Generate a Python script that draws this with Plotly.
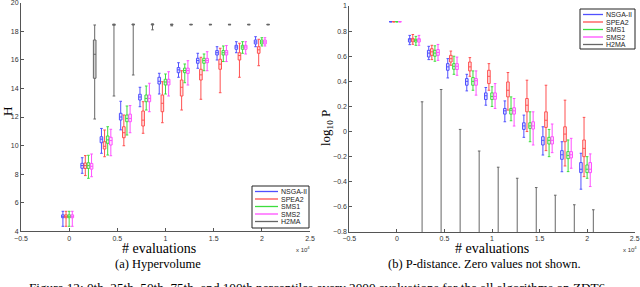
import plotly.graph_objects as go

# ---------------- data ----------------
EVALUATIONS = [0, 2000, 4000, 6000, 8000, 10000, 12000, 14000, 16000, 18000, 20000]
ALGORITHMS = ["NSGA-II", "SPEA2", "SMS1", "SMS2", "H2MA"]
X_TICKS = [-0.5, 0, 0.5, 1, 1.5, 2, 2.5]

# Hypervolume percentiles per evaluation step: (0th, 25th, 50th, 75th, 100th)
HV_NSGA2 = [(4.35, 4.95, 5.05, 5.15, 5.4), (8.06, 8.41, 8.6, 8.76, 9.15), (9.46, 10.2, 10.45, 10.62, 11.2),
            (11.1, 11.79, 12.0, 12.26, 13.1), (12.72, 13.19, 13.4, 13.59, 14.08), (13.61, 14.31, 14.5, 14.78, 15.06),
            (14.78, 15.1, 15.3, 15.46, 15.8), (15.41, 15.76, 15.95, 16.11, 16.46), (15.99, 16.34, 16.5, 16.65, 16.92),
            (16.5, 16.74, 16.9, 17.02, 17.27), (16.92, 17.11, 17.25, 17.39, 17.62)]
HV_SPEA2 = [(4.35, 4.95, 5.05, 5.15, 5.4), (7.9, 8.4, 8.6, 8.78, 9.3), (9.22, 9.76, 9.95, 10.27, 11.09),
            (9.99, 10.55, 10.9, 11.32, 12.14), (10.86, 11.37, 11.78, 12.42, 13.07), (11.6, 12.37, 12.96, 13.54, 14.47),
            (12.49, 13.47, 14.08, 14.59, 15.24), (13.24, 14.59, 14.95, 15.34, 16.18), (13.7, 15.34, 15.7, 16.04, 16.81),
            (14.78, 15.99, 16.3, 16.5, 17.16), (15.59, 16.46, 16.7, 16.92, 17.44)]
HV_SMS1 = [(4.35, 4.95, 5.05, 5.15, 5.4), (7.71, 8.4, 8.6, 8.8, 9.32), (9.34, 10.16, 10.4, 10.67, 11.32),
           (10.74, 11.67, 11.9, 12.14, 12.77), (12.49, 13.07, 13.3, 13.54, 14.17), (13.61, 14.24, 14.45, 14.64, 15.01),
           (14.4, 15.1, 15.25, 15.42, 15.71), (15.24, 15.76, 15.95, 16.11, 16.41), (15.88, 16.34, 16.5, 16.65, 16.97),
           (16.46, 16.74, 16.9, 17.02, 17.27), (16.97, 17.11, 17.25, 17.39, 17.55)]
HV_SMS2 = [(4.35, 4.95, 5.05, 5.15, 5.4), (7.82, 8.35, 8.55, 8.75, 9.41), (9.29, 10.04, 10.35, 10.58, 11.14),
           (10.9, 11.67, 11.9, 12.2, 12.8), (12.37, 13.07, 13.3, 13.54, 14.36), (13.47, 14.24, 14.45, 14.64, 15.17),
           (14.24, 15.05, 15.25, 15.42, 15.94), (15.24, 15.8, 15.95, 16.1, 16.57), (15.88, 16.34, 16.5, 16.65, 17.0),
           (16.41, 16.74, 16.9, 17.02, 17.27), (16.97, 17.11, 17.25, 17.39, 17.55)]
HV_H2MA = [None, (11.86, 14.71, 16.39, 17.39, 18.44), (13.47, 18.42, 18.46, 18.48, 18.5),
           (14.94, 18.44, 18.47, 18.49, 18.5), (18.1, 18.44, 18.47, 18.49, 18.52), (18.38, 18.44, 18.46, 18.48, 18.5),
           (18.45, 18.46, 18.47, 18.48, 18.49), (18.45, 18.46, 18.47, 18.48, 18.49), (18.45, 18.46, 18.47, 18.48, 18.49),
           (18.45, 18.46, 18.47, 18.48, 18.49), (18.45, 18.46, 18.47, 18.48, 18.49)]

# log10 P-distance percentiles per evaluation step
P_NSGA2 = [(0.875, 0.875, 0.875, 0.875, 0.875), (0.692, 0.713, 0.73, 0.74, 0.766), (0.573, 0.594, 0.625, 0.647, 0.679),
           (0.427, 0.488, 0.515, 0.541, 0.581), (0.324, 0.369, 0.4, 0.422, 0.456), (0.21, 0.255, 0.285, 0.308, 0.351),
           (0.078, 0.139, 0.165, 0.184, 0.244), (-0.046, 0.017, 0.045, 0.07, 0.131), (-0.187, -0.107, -0.07, -0.041, 0.038),
           (-0.32, -0.221, -0.185, -0.152, -0.081), (-0.459, -0.327, -0.3, -0.247, -0.173)]
P_SPEA2 = [(0.875, 0.875, 0.875, 0.875, 0.875), (0.695, 0.715, 0.73, 0.742, 0.773), (0.573, 0.607, 0.635, 0.66, 0.687),
           (0.528, 0.554, 0.58, 0.607, 0.641), (0.44, 0.483, 0.515, 0.554, 0.589), (0.329, 0.382, 0.44, 0.488, 0.541),
           (0.171, 0.276, 0.329, 0.395, 0.47), (0.0, 0.157, 0.21, 0.263, 0.409), (-0.152, 0.033, 0.09, 0.157, 0.369),
           (-0.274, -0.081, -0.02, 0.038, 0.25), (-0.359, -0.2, -0.134, -0.067, 0.113)]
P_SMS1 = [(0.875, 0.875, 0.875, 0.875, 0.875), (0.687, 0.713, 0.728, 0.735, 0.758), (0.56, 0.6, 0.625, 0.647, 0.683),
          (0.456, 0.496, 0.52, 0.541, 0.6), (0.329, 0.369, 0.4, 0.43, 0.483), (0.2, 0.255, 0.28, 0.308, 0.357),
          (0.086, 0.139, 0.17, 0.184, 0.276), (-0.081, 0.025, 0.045, 0.07, 0.157), (-0.2, -0.099, -0.07, -0.046, 0.017),
          (-0.319, -0.216, -0.19, -0.16, -0.067), (-0.372, -0.327, -0.3, -0.266, -0.2)]
P_SMS2 = [(0.875, 0.875, 0.875, 0.875, 0.875), (0.687, 0.713, 0.73, 0.74, 0.766), (0.567, 0.607, 0.63, 0.653, 0.694),
          (0.448, 0.494, 0.52, 0.541, 0.593), (0.29, 0.369, 0.405, 0.422, 0.483), (0.184, 0.257, 0.28, 0.308, 0.382),
          (0.044, 0.139, 0.165, 0.19, 0.263), (-0.107, 0.02, 0.045, 0.078, 0.157), (-0.168, -0.099, -0.07, -0.041, 0.06),
          (-0.292, -0.21, -0.185, -0.16, -0.054), (-0.438, -0.327, -0.3, -0.247, -0.178)]
# H2MA: lower percentiles are zero (log10 -> -inf, not shown); only the maxima are finite
P_H2MA_MAX = [None, 0.237, 0.335, 0.017, -0.155, -0.284, -0.372, -0.446, -0.507, -0.583, -0.623]
LOG_ZERO_FLOOR = -5.0  # stand-in for log10(0) = -inf, lies below the axis

# ---------------- styling ----------------
COLORS = ["#5050ff", "#ff5050", "#3ddd3d", "#ff50ff", "#666666"]
FILLS = ["rgba(80,80,255,0.18)", "rgba(255,80,80,0.18)", "rgba(61,221,61,0.18)",
         "rgba(255,80,255,0.18)", "rgba(150,150,150,0.45)"]
OFFSETS = [-650, -325, 0, 325, 650]  # evaluations offset of each algorithm within a step
SCALE = 1e4
BOX_W = 0.027
SERIF = "Liberation Serif, Times New Roman, serif"
SANS = "Liberation Sans, Arial, sans-serif"

W, H = 640, 287
fig = go.Figure()


def add_boxes(stats, k, xa, ya):
    xs, lo, q1, md, q3, hi = [], [], [], [], [], []
    for e, s in zip(EVALUATIONS, stats):
        if s is None:
            continue
        xs.append((e + OFFSETS[k]) / SCALE)
        lo.append(s[0]); q1.append(s[1]); md.append(s[2]); q3.append(s[3]); hi.append(s[4])
    fig.add_trace(go.Box(
        x=xs, lowerfence=lo, q1=q1, median=md, q3=q3, upperfence=hi,
        name=ALGORITHMS[k], xaxis=xa, yaxis=ya, width=BOX_W, whiskerwidth=1,
        line=dict(color=COLORS[k], width=1), fillcolor=FILLS[k],
        boxpoints=False, showlegend=False, hoverinfo="skip"))


for k, stats in enumerate([HV_NSGA2, HV_SPEA2, HV_SMS1, HV_SMS2, HV_H2MA]):
    add_boxes(stats, k, "x", "y")

P_H2MA = [None if m is None else (LOG_ZERO_FLOOR, LOG_ZERO_FLOOR, LOG_ZERO_FLOOR, LOG_ZERO_FLOOR, m)
          for m in P_H2MA_MAX]
for k, stats in enumerate([P_NSGA2, P_SPEA2, P_SMS1, P_SMS2, P_H2MA]):
    add_boxes(stats, k, "x2", "y2")


def px_x(p):
    return p / W


def px_y(p):
    return 1 - p / H


axis_common = dict(showgrid=False, zeroline=False, showline=True, linecolor="#555555", linewidth=1,
                   ticks="inside", ticklen=3, tickcolor="#555555", tickfont=dict(family=SANS, size=7, color="#333333"),
                   automargin=False, mirror=False, ticklabeloverflow="allow")

fig.update_layout(
    width=W, height=H, margin=dict(l=0, r=0, t=0, b=0),
    paper_bgcolor="white", plot_bgcolor="white", boxmode="overlay", showlegend=False, hovermode=False,
    xaxis=dict(domain=[px_x(21), px_x(310)], range=[-0.5, 2.5], tickvals=X_TICKS, anchor="y", **axis_common),
    yaxis=dict(domain=[px_y(231.3), px_y(2.7)], range=[4, 20], dtick=2, anchor="x", **axis_common),
    xaxis2=dict(domain=[px_x(349.3), px_x(634.7)], range=[-0.5, 2.5], tickvals=X_TICKS, anchor="y2", **axis_common),
    yaxis2=dict(domain=[px_y(232), px_y(6)], range=[-0.8, 1], dtick=0.2, anchor="x2", **axis_common),
)

ann = []
shapes = []


def text(x, y, s, size, family=SERIF, angle=0, xanchor="center", yanchor="middle", color="black"):
    ann.append(dict(x=px_x(x), y=px_y(y), xref="paper", yref="paper", text=s, showarrow=False,
                    textangle=angle, xanchor=xanchor, yanchor=yanchor,
                    font=dict(family=family, size=size, color=color)))


text(159, 248, "# evaluations", 14)
text(492, 248, "# evaluations", 14)
text(303, 249, "x 10<sup>4</sup>", 6, SANS, color="#333333")
text(630, 249, "x 10<sup>4</sup>", 6, SANS, color="#333333")
text(158, 264, "(a) Hypervolume", 12.5)
text(484, 264, "(b) P-distance. Zero values not shown.", 12.5)
text(318, 278, "Figure 12: 0th, 25th, 50th, 75th, and 100th percentiles every 2000 evaluations for the all algorithms on ZDT6.",
     13.2, yanchor="top")
text(7, 112, "H", 13, angle=-90)
text(326, 128, "log<sub>10</sub> P", 13, angle=-90)


def legend(x0, y0, x1, y1, first_y, step, lx0, lx1, tx):
    shapes.append(dict(type="rect", xref="paper", yref="paper", x0=px_x(x0), x1=px_x(x1), y0=px_y(y1), y1=px_y(y0),
                       line=dict(color="#222222", width=1), fillcolor="white", layer="above"))
    for i, name in enumerate(ALGORITHMS):
        yy = first_y + i * step
        shapes.append(dict(type="line", xref="paper", yref="paper", x0=px_x(lx0), x1=px_x(lx1),
                           y0=px_y(yy), y1=px_y(yy), line=dict(color=COLORS[i], width=1.3), layer="above"))
        text(tx, yy, name, 7, SANS, xanchor="left", color="#222222")


legend(252, 186, 309, 228, 191.5, 7.5, 255, 278, 279)
legend(580, 9, 635, 49, 14.5, 7.5, 583, 603, 604)

fig.update_layout(annotations=ann, shapes=shapes)
fig.write_html("out.html", config={"displayModeBar": False, "staticPlot": True},
               post_script="document.body.style.margin='0';document.body.style.overflow='hidden';")
